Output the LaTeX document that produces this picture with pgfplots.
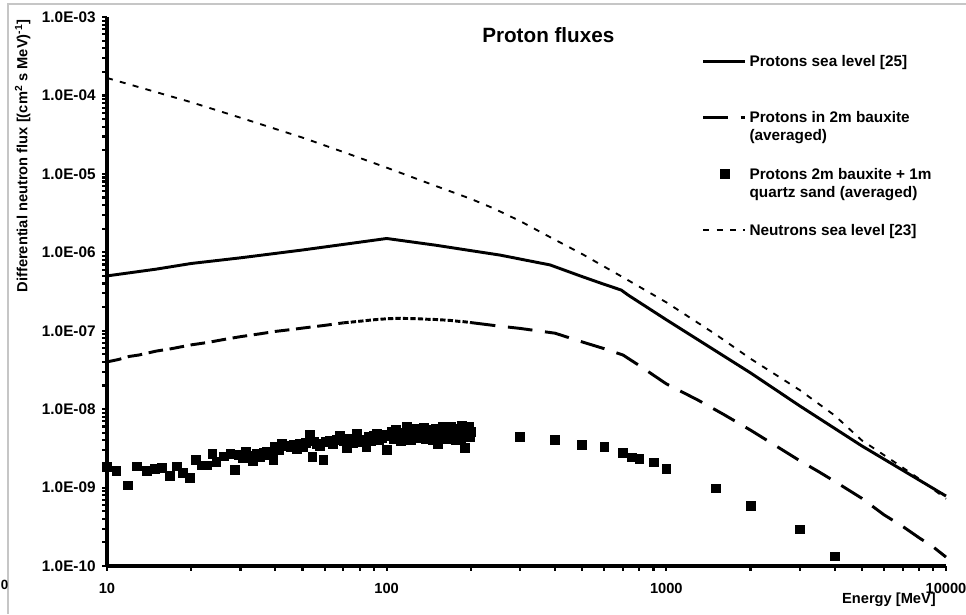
\documentclass[border=0pt]{standalone}
\usepackage{fontspec}
\setmainfont{Liberation Sans}
\usepackage{pgfplots}
\pgfplotsset{compat=1.18}
\begin{document}
\begin{tikzpicture}
\begin{loglogaxis}[
  name=ax,
  scale only axis, width=629.25pt, height=411.75pt,
  xmin=10, xmax=10000, ymin=1e-10, ymax=1e-3,
  axis x line=bottom, axis y line=left,
  axis line style={-, line width=2.3pt},
  tick align=outside,
  major tick length=3.5pt, minor tick length=3.5pt,
  major tick style={black, line width=1.6pt},
  minor tick style={black, line width=1.6pt},
  xtick={10,100,1000,10000}, xticklabels={10,100,1000,10000},
  ytick={1e-10,1e-9,1e-8,1e-7,1e-6,1e-5,1e-4,1e-3},
  yticklabels={1.0E-10,1.0E-09,1.0E-08,1.0E-07,1.0E-06,1.0E-05,1.0E-04,1.0E-03},
  x tick label style={font=\fontsize{11}{13}\selectfont\bfseries, yshift=-6pt},
  y tick label style={font=\fontsize{11.5}{13}\selectfont\bfseries, xshift=-1.5pt},
  clip=false,
  title={Proton fluxes},
  title style={at={(axis description cs:0.526,0.9524)}, anchor=center, yshift=0pt, font=\fontsize{15.5}{18}\selectfont\bfseries},
  xlabel={Energy [MeV]},
  xlabel style={at={(axis description cs:0.932,-0.062)}, anchor=center, font=\fontsize{11}{13}\selectfont\bfseries},
  ylabel={Differential neutron flux [(cm\textsuperscript{2} s MeV)\textsuperscript{-1}]},
  ylabel style={at={(axis description cs:-0.1005,1.004)}, anchor=east, font=\fontsize{11}{13}\selectfont\bfseries},
  legend image code/.code={\draw[mark repeat=2,mark phase=2,#1] plot coordinates {(0pt,-7.5pt) (15.75pt,-7.5pt) (31.5pt,-7.5pt)};},
  legend style={draw=none, fill=none, at={(axis description cs:0.704,0.943)}, anchor=north west,
    font=\fontsize{11.5}{13.5}\selectfont\bfseries,
    nodes={align=left, anchor=north west, inner sep=2pt}, row sep=13.5pt},
]
\addplot[black, line width=2.2pt, line join=round] coordinates {
(10,5.0e-7) (15,6.1e-7) (20,7.2e-7) (30,8.5e-7) (50,1.07e-6) (70,1.26e-6) (100,1.5e-6)
(150,1.23e-6) (200,1.05e-6) (255,9.2e-7) (300,8.2e-7) (384,6.9e-7) (500,4.9e-7) (600,3.9e-7)
(690,3.3e-7) (730,2.85e-7) (1000,1.38e-7) (2000,2.9e-8) (3000,1.1e-8) (5000,3.4e-9) (10000,7.8e-10)
};
\addlegendentry{Protons sea level [25]\strut\\\strut}
\addplot[black, line width=2.2pt, dash pattern=on 18.5pt off 9.5pt] coordinates {
(200,1.27e-7)
(250,1.15e-7) (300,1.07e-7) (400,9.3e-8) (500,7.2e-8) (600,5.9e-8) (700,4.9e-8) (800,3.6e-8)
(1000,2.1e-8) (1300,1.3e-8) (1600,8.6e-9) (2000,5.4e-9) (2500,3.3e-9) (3000,2.2e-9) (3500,1.6e-9)
(4000,1.2e-9) (5000,7.3e-10) (6000,4.5e-10) (7000,3.2e-10) (8000,2.3e-10) (9000,1.75e-10) (10000,1.3e-10)
};
\addlegendentry{Protons in 2m bauxite\strut\\(averaged)\strut}
\addplot[black, only marks, mark=square*, mark size=3.3pt] coordinates {
(10,1.84e-9) (10.8,1.62e-9) (11.85,1.07e-9) (12.8,1.87e-9) (13.85,1.62e-9) (14.8,1.75e-9)
(15.7,1.77e-9) (16.8,1.40e-9) (17.8,1.87e-9) (18.7,1.55e-9) (19.8,1.33e-9) (20.7,2.28e-9)
(21.8,1.93e-9) (22.7,1.93e-9) (23.8,2.67e-9) (24.6,2.13e-9) (26.1,2.51e-9) (27.6,2.72e-9)
(28.7,1.67e-9) (29.5,2.6e-9) (30.5,2.4e-9) (31.4,2.86e-9) (32.3,2.55e-9) (33.3,2.17e-9)
(34.2,2.7e-9) (35.2,2.5e-9) (36.2,2.75e-9) (37.3,2.86e-9) (38.3,2.6e-9) (39.3,2.28e-9)
(39.9,3.31e-9) (41,3.0e-9) (42.1,3.66e-9) (43.5,3.4e-9) (45.2,3.3e-9) (46.5,3.5e-9)
(47.6,3.1e-9) (49,3.6e-9) (50.3,3.3e-9) (51.5,3.7e-9) (53.2,4.68e-9) (54.2,2.5e-9)
(55,3.9e-9) (56.2,3.66e-9) (57.5,3.4e-9) (59.3,2.28e-9) (60.5,3.8e-9) (62.7,4.0e-9)
(64,3.6e-9) (66,4.1e-9) (68,4.6e-9) (70,3.9e-9) (72,3.2e-9) (74,4.2e-9) (76,3.7e-9)
(78,4.9e-9) (80,4.1e-9) (82,3.8e-9) (84.5,3.3e-9) (86,4.4e-9) (88,3.9e-9) (90,4.6e-9)
(92,4.9e-9) (94,4.0e-9) (96,4.3e-9) (98,4.7e-9) (100,3.0e-9) (102,4.5e-9) (104,5.1e-9)
(106,4.2e-9) (108,5.4e-9) (110,4.6e-9) (112,3.9e-9) (114,5.0e-9) (116,4.4e-9) (118,5.9e-9)
(120,4.8e-9) (122,4.1e-9) (124,5.3e-9) (126,4.5e-9) (128,5.6e-9) (130,4.3e-9) (132,5.0e-9)
(134,4.7e-9) (136,5.8e-9) (138,4.2e-9) (140,5.2e-9) (142,4.6e-9) (144,5.5e-9) (146,4.0e-9)
(148,4.9e-9) (150,5.7e-9) (152,3.6e-9) (154,5.1e-9) (156,4.4e-9) (158,5.9e-9) (160,4.7e-9)
(162,5.3e-9) (164,4.2e-9) (166,5.6e-9) (168,4.8e-9) (170,6.0e-9) (172,4.5e-9) (174,5.2e-9)
(176,4.1e-9) (178,5.7e-9) (180,4.9e-9) (182,5.4e-9) (184,4.3e-9) (186,6.1e-9) (188,5.0e-9)
(190,3.2e-9) (192,5.5e-9) (194,4.6e-9) (196,5.9e-9) (198,4.4e-9) (200,5.2e-9)
(300,4.4e-9) (400,4.1e-9) (500,3.55e-9) (600,3.3e-9) (700,2.8e-9) (750,2.43e-9) (800,2.35e-9)
(900,2.1e-9) (1000,1.75e-9) (1500,9.8e-10) (2000,5.8e-10) (3000,2.95e-10) (4000,1.33e-10)
};
\addlegendentry{Protons 2m bauxite + 1m\strut\\quartz sand (averaged)\strut}
\addplot[black, line width=1.4pt, dash pattern=on 4.5pt off 5.5pt] coordinates {
(10,1.67e-4) (20,8.2e-5) (30,5.2e-5) (50,2.9e-5) (70,1.9e-5) (100,1.2e-5) (150,7.0e-6)
(200,4.8e-6) (240,3.66e-6) (300,2.5e-6) (384,1.56e-6) (500,9.5e-7) (700,4.8e-7) (1000,2.3e-7)
(1500,9.0e-8) (2000,4.4e-8) (3000,1.75e-8) (4000,8.3e-9) (5000,4.0e-9) (6000,2.6e-9)
(7000,1.8e-9) (8000,1.3e-9) (10000,7.2e-10)
};
\addlegendentry{Neutrons sea level [23]\strut\\\strut}
\addplot[black, line width=2.2pt, dash pattern=on 11pt off 5pt, forget plot] coordinates {
(10,4.0e-8) (11,4.3e-8) (12,4.7e-8) (13,4.9e-8) (14,5.2e-8) (15,5.5e-8) (17,5.9e-8) (20,6.6e-8)
(23,7.1e-8) (26,7.7e-8) (30,8.4e-8) (35,9.1e-8) (40,9.8e-8) (45,1.03e-7) (50,1.08e-7) (60,1.17e-7)
(70,1.26e-7)
};
\addplot[black, line width=2.2pt, dash pattern=on 4pt off 1.6pt, forget plot] coordinates {
(70,1.26e-7) (80,1.32e-7) (90,1.38e-7) (100,1.42e-7) (110,1.44e-7) (120,1.43e-7) (130,1.42e-7)
(140,1.40e-7) (150,1.39e-7) (160,1.37e-7) (170,1.35e-7) (180,1.32e-7) (190,1.30e-7) (200,1.27e-7)
};
\draw[gray!45, line width=1pt] (axis description cs:-0.118,-0.0874) -- (axis description cs:-0.118,1.0237) -- (axis description cs:1.0238,1.0237);
\node[anchor=west, inner sep=0pt, font=\fontsize{10}{12}\selectfont\bfseries] at (axis description cs:-0.1269,-0.0346) {0};
\coordinate (bbSW) at (axis description cs:-0.12753,-0.08743);
\coordinate (bbNE) at (axis description cs:1.02384,1.03097);
\end{loglogaxis}
\pgfresetboundingbox
\path[use as bounding box] (bbSW) rectangle (bbNE);
\end{tikzpicture}
\end{document}
